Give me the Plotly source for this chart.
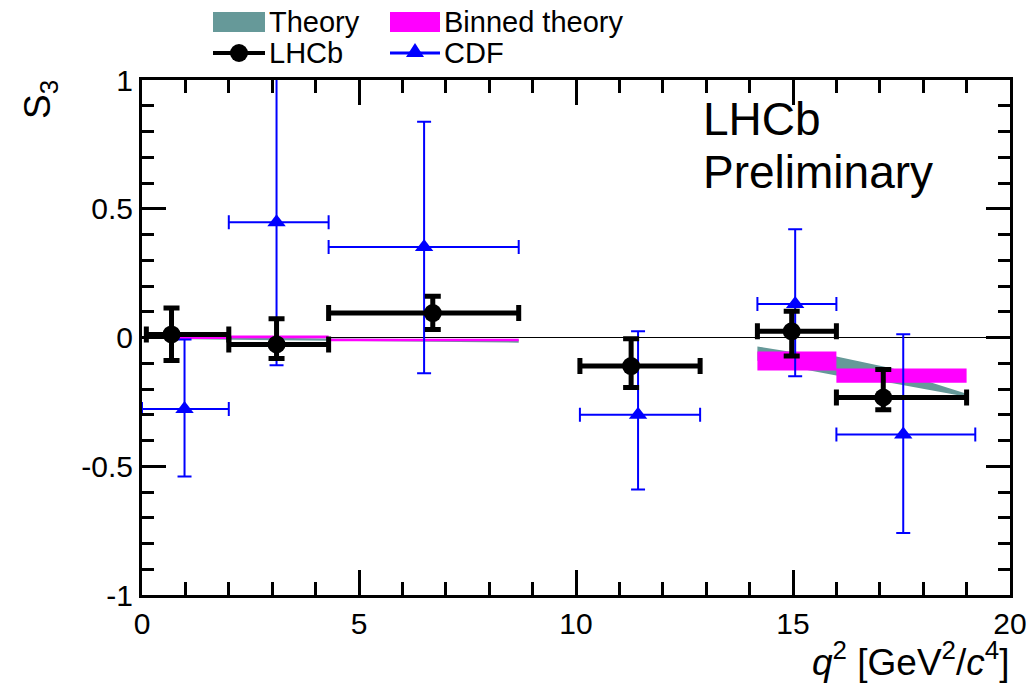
import plotly.graph_objects as go

# ---- LHCb measurement of S3 in bins of q^2 ----
lhcb_q2 = [0.68, 3.10, 6.70, 11.27, 14.97, 17.08]
lhcb_bin_lo = [0.10, 2.00, 4.30, 10.09, 14.18, 16.00]
lhcb_bin_hi = [2.00, 4.30, 8.68, 12.86, 16.00, 19.00]
lhcb_s3 = [0.012, -0.027, 0.095, -0.111, 0.024, -0.233]
lhcb_err_up = [0.103, 0.100, 0.065, 0.106, 0.078, 0.109]
lhcb_err_dn = [0.101, 0.055, 0.064, 0.083, 0.096, 0.048]

# ---- CDF measurement ----
cdf_q2 = [0.98, 3.10, 6.50, 11.43, 15.05, 17.54]
cdf_bin_lo = [0.00, 2.00, 4.30, 10.09, 14.18, 16.00]
cdf_bin_hi = [2.00, 4.30, 8.68, 12.86, 16.00, 19.20]
cdf_s3 = [-0.278, 0.448, 0.351, -0.300, 0.130, -0.377]
cdf_err_up = [0.270, 0.556, 0.487, 0.324, 0.290, 0.390]
cdf_err_dn = [0.262, 0.556, 0.490, 0.290, 0.280, 0.382]

# ---- SM theory band (upper / lower edge) ----
theory_low_q2 = [0.10, 2.00, 4.30, 6.00, 8.68]
theory_low_upper = [0.005, 0.000, -0.004, -0.006, -0.008]
theory_low_lower = [-0.005, -0.010, -0.012, -0.015, -0.020]
theory_high_q2 = [14.18, 14.90, 16.00, 17.30, 18.20, 19.00]
theory_high_upper = [-0.035, -0.054, -0.074, -0.120, -0.176, -0.218]
theory_high_lower = [-0.090, -0.114, -0.148, -0.178, -0.205, -0.230]

# ---- Binned theory predictions ----
binned_lo = [0.10, 2.00, 4.30, 14.18, 16.00]
binned_hi = [2.00, 4.30, 8.68, 16.00, 19.00]
binned_top = [0.004, 0.008, -0.005, -0.054, -0.120]
binned_bottom = [-0.006, -0.003, -0.015, -0.128, -0.176]

# axis ticks
x_tick_vals = [0, 5, 10, 15, 20]
x_tick_text = ["0", "5", "10", "15", "20"]
y_tick_vals = [-1, -0.5, 0, 0.5, 1]
y_tick_text = ["-1", "-0.5", "0", "0.5", "1"]

TEAL = "#669999"
MAGENTA = "#ff00ff"
BLUE = "#0000ff"
FONT = "Liberation Sans, Arial, Helvetica, sans-serif"

W, H = 1029, 692
ML, MR, MT, MB = 142, 19, 80, 97


def band_polygon(xs, upper, lower):
    return list(xs) + list(reversed(xs)), list(upper) + list(reversed(lower))


def box_polygons(lo, hi, top, bottom):
    px, py = [], []
    for a, b, t, d in zip(lo, hi, top, bottom):
        px += [a, b, b, a, a, None]
        py += [t, t, d, d, t, None]
    return px, py


fig = go.Figure()

# theory band (two q^2 regions)
bx1, by1 = band_polygon(theory_low_q2, theory_low_upper, theory_low_lower)
bx2, by2 = band_polygon(theory_high_q2, theory_high_upper, theory_high_lower)
fig.add_trace(go.Scatter(
    x=bx1 + [None] + bx2, y=by1 + [None] + by2,
    mode="lines", fill="toself", fillcolor=TEAL,
    line=dict(width=0, color=TEAL), hoverinfo="skip", name="Theory",
    showlegend=False))

# binned theory boxes
hx, hy = box_polygons(binned_lo, binned_hi, binned_top, binned_bottom)
fig.add_trace(go.Scatter(
    x=hx, y=hy, mode="lines", fill="toself", fillcolor=MAGENTA,
    line=dict(width=0, color=MAGENTA), hoverinfo="skip",
    name="Binned theory", showlegend=False))

# CDF points
fig.add_trace(go.Scatter(
    x=cdf_q2, y=cdf_s3, mode="markers", name="CDF",
    marker=dict(symbol="triangle-up", size=16, color=BLUE),
    error_x=dict(type="data", symmetric=False,
                 array=[h - x for h, x in zip(cdf_bin_hi, cdf_q2)],
                 arrayminus=[x - l for l, x in zip(cdf_bin_lo, cdf_q2)],
                 color=BLUE, thickness=2, width=7),
    error_y=dict(type="data", symmetric=False, array=cdf_err_up,
                 arrayminus=cdf_err_dn, color=BLUE, thickness=2, width=7),
    showlegend=False))

# LHCb points
fig.add_trace(go.Scatter(
    x=lhcb_q2, y=lhcb_s3, mode="markers", name="LHCb",
    marker=dict(symbol="circle", size=18, color="black"),
    error_x=dict(type="data", symmetric=False,
                 array=[h - x for h, x in zip(lhcb_bin_hi, lhcb_q2)],
                 arrayminus=[x - l for l, x in zip(lhcb_bin_lo, lhcb_q2)],
                 color="black", thickness=5, width=8),
    error_y=dict(type="data", symmetric=False, array=lhcb_err_up,
                 arrayminus=lhcb_err_dn, color="black", thickness=5, width=8),
    showlegend=False))


def pxx(x):
    return (x - ML) / (W - ML - MR)


def pxy(y):
    return (H - MB - y) / (H - MT - MB)


shapes = []
annotations = []

# legend: swatches / symbols drawn in paper space
legend_rows = [
    ("Theory", "box", TEAL, 213, 265, 22),
    ("Binned theory", "box", MAGENTA, 390, 440, 22),
    ("LHCb", "circle", "black", 213, 265, 53),
    ("CDF", "triangle", BLUE, 390, 440, 53),
]
for label, kind, color, x0, x1, yc in legend_rows:
    if kind == "box":
        shapes.append(dict(type="rect", xref="paper", yref="paper",
                           x0=pxx(x0), x1=pxx(x1), y0=pxy(yc + 10), y1=pxy(yc - 10),
                           fillcolor=color, line=dict(width=0), layer="above"))
    else:
        shapes.append(dict(type="line", xref="paper", yref="paper",
                           x0=pxx(x0), x1=pxx(x1), y0=pxy(yc), y1=pxy(yc),
                           line=dict(color=color, width=4 if kind == "circle" else 3)))
        xm = pxx((x0 + x1) / 2)
        if kind == "circle":
            shapes.append(dict(type="circle", xref="paper", yref="paper",
                               xsizemode="pixel", ysizemode="pixel",
                               xanchor=xm, yanchor=pxy(yc),
                               x0=-9, x1=9, y0=-9, y1=9,
                               fillcolor=color, line=dict(width=0)))
        else:
            shapes.append(dict(type="path", xref="paper", yref="paper",
                               xsizemode="pixel", ysizemode="pixel",
                               xanchor=xm, yanchor=pxy(yc),
                               path="M -9 -4 L 9 -4 L 0 10 Z",
                               fillcolor=color, line=dict(width=0)))
    annotations.append(dict(text=label, xref="paper", yref="paper",
                            x=pxx(x1 + 2), y=pxy(yc), xanchor="left",
                            yanchor="middle", showarrow=False,
                            font=dict(family=FONT, size=29, color="black")))

# LHCb Preliminary label
annotations.append(dict(text="LHCb", xref="paper", yref="paper",
                        x=pxx(701), y=pxy(119), xanchor="left", yanchor="middle",
                        showarrow=False, font=dict(family=FONT, size=46, color="black")))
annotations.append(dict(text="Preliminary", xref="paper", yref="paper",
                        x=pxx(701), y=pxy(172), xanchor="left", yanchor="middle",
                        showarrow=False, font=dict(family=FONT, size=46, color="black")))

# axis titles
annotations.append(dict(text="<i>q</i><sup>2</sup> [GeV<sup>2</sup>/<i>c</i><sup>4</sup>]",
                        xref="paper", yref="paper", x=pxx(1011), y=pxy(659),
                        xanchor="right", yanchor="middle", showarrow=False,
                        font=dict(family=FONT, size=37, color="black")))
annotations.append(dict(text="S<sub>3</sub>", xref="paper", yref="paper",
                        x=pxx(40), y=pxy(100), xanchor="center", yanchor="middle",
                        textangle=-90, showarrow=False,
                        font=dict(family=FONT, size=37, color="black")))

axis_common = dict(
    showline=True, linewidth=3, linecolor="black", mirror="ticks",
    ticks="inside", tickwidth=3, tickcolor="black", showgrid=False,
    tickfont=dict(family=FONT, size=30, color="black"), tickmode="array",
    automargin=False,
)

fig.update_layout(
    width=W, height=H,
    margin=dict(l=ML, r=MR, t=MT, b=MB),
    paper_bgcolor="white", plot_bgcolor="white",
    showlegend=False,
    shapes=shapes, annotations=annotations,
    xaxis=dict(range=[0, 20], tickvals=x_tick_vals, ticktext=x_tick_text,
               ticklen=25, zeroline=False,
               minor=dict(dtick=1, tick0=0, ticks="inside", ticklen=13,
                          tickwidth=3, tickcolor="black", showgrid=False),
               **axis_common),
    yaxis=dict(range=[-1, 1], tickvals=y_tick_vals, ticktext=y_tick_text,
               ticklen=24, zeroline=True, zerolinecolor="black", zerolinewidth=1,
               minor=dict(dtick=0.1, tick0=0, ticks="inside", ticklen=12,
                          tickwidth=3, tickcolor="black", showgrid=False),
               **axis_common),
)

fig.write_html("out.html")
